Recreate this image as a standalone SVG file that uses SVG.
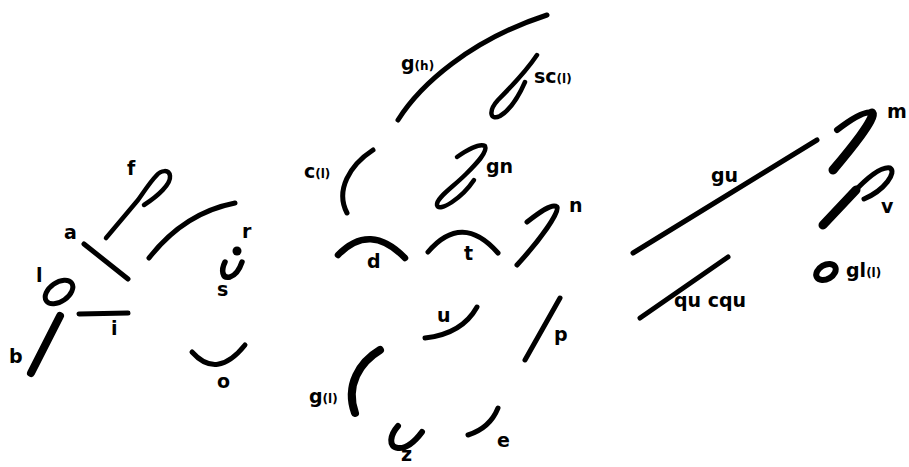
<svg xmlns="http://www.w3.org/2000/svg" width="909" height="467" viewBox="0 0 909 467">
<style>
.s{fill:none;stroke:#000;stroke-width:5;stroke-linecap:round;stroke-linejoin:round}
.k{stroke-width:8}
.lp{stroke-width:4.5}
.t{font-family:"DejaVu Sans",sans-serif;font-weight:bold;font-size:19px;fill:#000}
.sm{font-size:12px}
</style>
<rect width="909" height="467" fill="#fff"/>
<g id="f"><path class="s lp" d="M106,238 L138,200 C145,190 151,181 156,176 C161,170 169,169 170,176 C171,184 158,196 144,205"/><text class="t" x="127" y="175">f</text></g>
<g id="a"><path class="s" d="M84,244 L128,279"/><text class="t" x="64" y="239">a</text></g>
<g id="l"><ellipse class="s" cx="59" cy="292" rx="15.5" ry="9.5" transform="rotate(-35 59 292)" style="stroke-width:5"/><text class="t" x="36" y="282">l</text></g>
<g id="b"><path class="s k" d="M31,373 L60,316"/><text class="t" x="9" y="363">b</text></g>
<g id="i"><path class="s" d="M79,314 L128,313"/><text class="t" x="111" y="335">i</text></g>
<g id="r"><path class="s" d="M149,258 Q184,213 235,203"/><circle cx="237" cy="251" r="4.5"/><text class="t" x="242" y="238">r</text></g>
<g id="s"><path class="s" style="stroke-width:5.5" d="M225,262 C221,270 222,279 230,277 C236,275 240,268 242,262"/><text class="t" x="217" y="296">s</text></g>
<g id="o"><path class="s" d="M192,352 Q217,380 245,345"/><text class="t" x="217" y="388">o</text></g>
<g id="gh"><path class="s" d="M398,120 C420,85 470,40 547,15"/><text class="t" x="401" y="70">g<tspan class="sm">(h)</tspan></text></g>
<g id="scl"><path class="s lp" d="M537,55 C527,70 510,88 498,100 C488,111 490,121 500,116 C510,110 518,98 525,82"/><text class="t" x="534" y="83">sc<tspan class="sm">(l)</tspan></text></g>
<g id="cl"><path class="s" d="M373,150 C350,165 335,190 347,213"/><text class="t" x="304" y="178">c<tspan class="sm">(l)</tspan></text></g>
<g id="gn"><path class="s lp" d="M457,157 C467,150 480,143 485,146 C488,152 476,164 466,174 C452,188 436,198 437,205 C439,213 462,198 474,180"/><text class="t" x="486" y="173">gn</text></g>
<g id="n"><path class="s" d="M527,222 C540,212 552,203 557,207 C560,212 540,240 517,265"/><text class="t" x="569" y="212">n</text></g>
<g id="d"><path class="s" style="stroke-width:6.5" d="M338,255 Q370,222 405,258"/><text class="t" x="367" y="268">d</text></g>
<g id="t"><path class="s" d="M428,252 Q462,212 498,253"/><text class="t" x="464" y="260">t</text></g>
<g id="u"><path class="s" d="M425,338 Q462,334 477,307"/><text class="t" x="437" y="322">u</text></g>
<g id="p"><path class="s" d="M560,298 L525,360"/><text class="t" x="554" y="341">p</text></g>
<g id="gl"><path class="s k" d="M380,350 C360,362 345,385 355,413"/><text class="t" x="309" y="403">g<tspan class="sm">(l)</tspan></text></g>
<g id="e"><path class="s" d="M468,435 Q490,428 498,408"/><text class="t" x="497" y="447">e</text></g>
<g id="z"><path class="s" style="stroke-width:6" d="M398,426 C390,435 388,447 398,448 C408,449 416,440 422,432"/><text class="t" x="401" y="461">z</text></g>
<g id="gu"><path class="s" d="M633,253 L817,140"/><text class="t" x="711" y="182">gu</text></g>
<g id="qu"><path class="s" d="M640,318 L728,257"/><text class="t" x="674" y="307">qu cqu</text></g>
<g id="m"><path class="s" style="stroke-width:6" d="M837,130 C850,120 865,110 872,113"/><path class="s k" style="stroke-width:9" d="M872,113 C876,118 850,150 833,170"/><text class="t" x="887" y="118">m</text></g>
<g id="v"><path class="s" style="stroke-width:9" d="M823,225 L856,190"/><path class="s" d="M852,194 C865,180 880,166 890,168 C897,172 885,190 864,199"/><text class="t" x="881" y="213">v</text></g>
<g id="gll"><ellipse class="s" cx="826" cy="272" rx="10.5" ry="7" transform="rotate(-30 826 272)" style="stroke-width:6"/><text class="t" x="846" y="277">gl<tspan class="sm">(l)</tspan></text></g>
</svg>
